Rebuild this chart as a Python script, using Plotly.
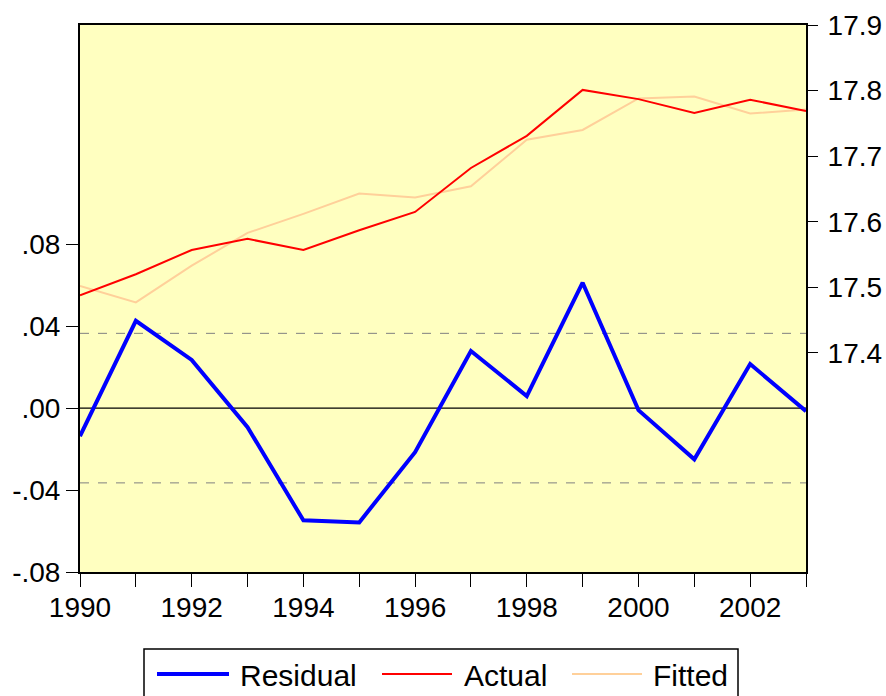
import plotly.graph_objects as go

years = list(range(1990, 2004))
residual = [-0.0137, 0.0426, 0.0235, -0.0093, -0.0548, -0.0558, -0.0215,
            0.0279, 0.0059, 0.0612, -0.0010, -0.0250, 0.0215, -0.0015]
actual = [17.488, 17.520, 17.557, 17.574, 17.557, 17.587, 17.615,
          17.682, 17.731, 17.801, 17.787, 17.766, 17.786, 17.769]
fitted = [17.502, 17.477, 17.533, 17.583, 17.612, 17.643, 17.637,
          17.654, 17.725, 17.740, 17.788, 17.791, 17.765, 17.771]
se_band = 0.0365

left_ticks = [-0.08, -0.04, 0.0, 0.04, 0.08]
left_labels = ["-.08", "-.04", ".00", ".04", ".08"]
right_ticks = [17.4, 17.5, 17.6, 17.7, 17.8, 17.9]
x_labels = [str(y) if y % 2 == 0 else "" for y in years]

series_names = ["Residual", "Actual", "Fitted"]
series_colors = ["#0000FF", "#FF0000", "#FFD09A"]
series_widths = [4, 2, 2]

FONT = "Liberation Sans, Arial, sans-serif"
W, H = 886, 696
ML, MR, MT, MB = 80, 80, 25, 124
PW, PH = W - ML - MR, H - MT - MB


def px_x(px):
    return (px - ML) / PW


def px_y(py):
    return (H - MB - py) / PH


fig = go.Figure()
fig.add_trace(go.Scatter(x=years, y=residual, name=series_names[0], mode="lines",
                         line=dict(color=series_colors[0], width=series_widths[0]),
                         yaxis="y"))
fig.add_trace(go.Scatter(x=years, y=fitted, name=series_names[2], mode="lines",
                         line=dict(color=series_colors[2], width=series_widths[2]),
                         yaxis="y2"))
fig.add_trace(go.Scatter(x=years, y=actual, name=series_names[1], mode="lines",
                         line=dict(color=series_colors[1], width=series_widths[1]),
                         yaxis="y2"))

for v, dash, col, w in [(0.0, "solid", "black", 1.2), (se_band, "dash", "#808080", 1),
                        (-se_band, "dash", "#808080", 1)]:
    fig.add_shape(type="line", xref="paper", yref="y", x0=0, x1=1, y0=v, y1=v,
                  line=dict(color=col, width=w, dash=dash), layer="below")

# Legend box (EViews style)
fig.add_shape(type="rect", xref="paper", yref="paper",
              x0=px_x(144), x1=px_x(738), y0=px_y(649), y1=px_y(702),
              line=dict(color="black", width=1.5), fillcolor="white")
line_x = [(157, 229), (382, 452), (572, 642)]
text_x = [240, 464, 653]
for i, name in enumerate(series_names):
    fig.add_shape(type="line", xref="paper", yref="paper",
                  x0=px_x(line_x[i][0]), x1=px_x(line_x[i][1]),
                  y0=px_y(674), y1=px_y(674),
                  line=dict(color=series_colors[i], width=series_widths[i]))
    fig.add_annotation(xref="paper", yref="paper", x=px_x(text_x[i] - 2),
                       y=px_y(675), text=name, showarrow=False,
                       xanchor="left", yanchor="middle",
                       font=dict(size=30, family=FONT, color="black"))

fig.update_layout(
    width=W, height=H,
    margin=dict(l=ML, r=MR, t=MT, b=MB, autoexpand=False),
    paper_bgcolor="white",
    plot_bgcolor="#FFFFC0",
    font=dict(family=FONT, size=28, color="black"),
    showlegend=False,
    xaxis=dict(range=[1990, 2003], tickvals=years, ticktext=x_labels,
               ticks="outside", ticklen=13, tickcolor="black", tickwidth=1,
               ticklabelstandoff=-4,
               showgrid=False, zeroline=False, showline=True, linecolor="black",
               linewidth=2, mirror=True, tickfont=dict(size=28), automargin=False),
    yaxis=dict(range=[-0.08, 0.187], tickvals=left_ticks, ticktext=left_labels,
               ticks="outside", ticklen=12, tickcolor="black",
               showgrid=False, zeroline=False, showline=True, linecolor="black",
               linewidth=2, mirror=True, tickfont=dict(size=28), automargin=False),
    yaxis2=dict(range=[17.066, 17.9], tickvals=right_ticks, tickformat=".1f",
                overlaying="y", side="right", ticks="outside", ticklen=11,
                ticklabelstandoff=4,
                tickcolor="black", showgrid=False, zeroline=False,
                showline=False, tickfont=dict(size=28), automargin=False),
)

fig.write_html("out.html",
               config={"displayModeBar": False},
               post_script="document.body.style.margin='0';document.body.style.overflow='hidden';")
